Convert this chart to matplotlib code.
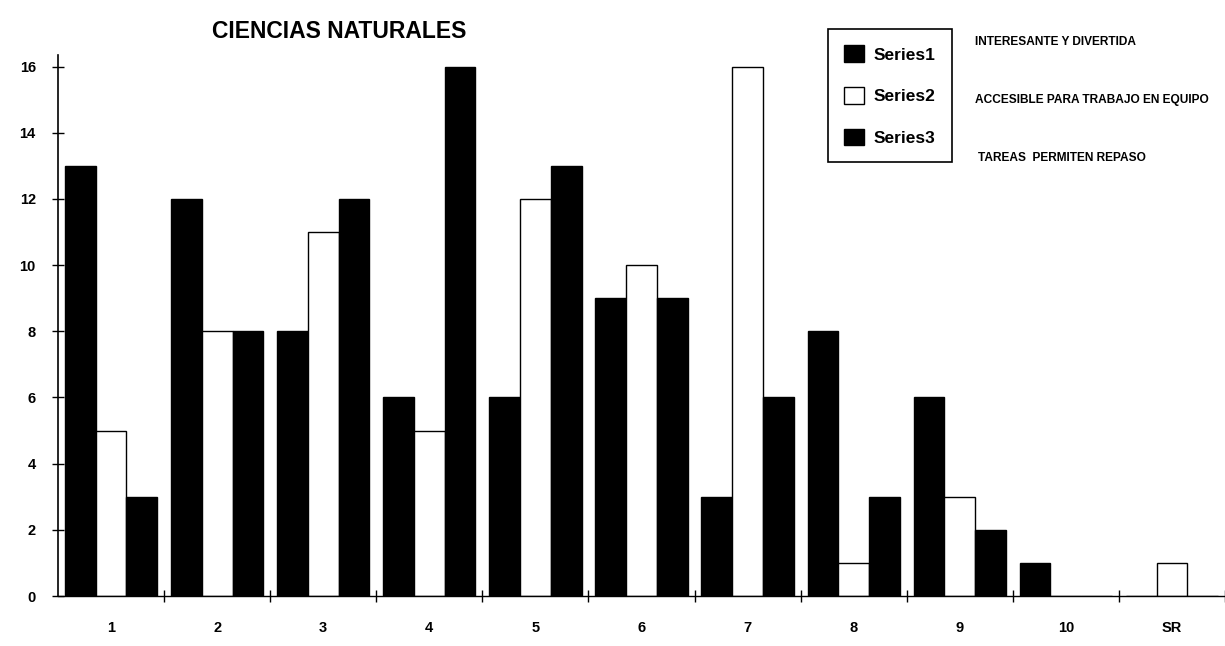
import matplotlib
matplotlib.use("Agg")
import matplotlib.pyplot as plt
import numpy as np
from matplotlib.patches import Patch

categories = ["1", "2", "3", "4", "5", "6", "7", "8", "9", "10", "SR"]
series1 = [13, 12, 8, 6, 6, 9, 3, 8, 6, 1, 0]
series2 = [5, 8, 11, 5, 12, 10, 16, 1, 3, 0, 1]
series3 = [3, 8, 12, 16, 13, 9, 6, 3, 2, 0, 0]
series_names = ["Series1", "Series2", "Series3"]
yticks = [0, 2, 4, 6, 8, 10, 12, 14, 16]
side_notes = ["INTERESANTE Y DIVERTIDA", "ACCESIBLE PARA TRABAJO EN EQUIPO", "TAREAS  PERMITEN REPASO"]
title = "CIENCIAS NATURALES"

plt.rcParams['font.family'] = ['Liberation Sans', 'DejaVu Sans']

fig = plt.figure(figsize=(12.25, 6.46), dpi=100)
ax = fig.add_axes([58/1225, 1-596/646, 1-58/1225, (596-55)/646])

x = np.arange(len(categories))
w = 0.29
ax.bar(x - w, series1, width=w, color='black', edgecolor='black', linewidth=1)
ax.bar(x, series2, width=w, color='white', edgecolor='black', linewidth=1)
ax.bar(x + w, series3, width=w, color='black', edgecolor='black', linewidth=1)

ax.set_xlim(-0.5, len(categories) - 0.5)
ax.set_ylim(0, 16.35)
ax.set_yticks(yticks)
ax.set_yticklabels([str(v) for v in yticks], fontsize=10.5, fontweight='bold')
ax.set_xticks(x)
ax.set_xticklabels(categories, fontsize=10.5, fontweight='bold')
ax.set_xticks(np.arange(len(categories)) + 0.5, minor=True)
ax.tick_params(axis='x', which='major', length=0, pad=18)
ax.tick_params(axis='x', which='minor', length=8, direction='inout', width=1)
ax.tick_params(axis='y', length=8, direction='inout', width=1, pad=12)
for s in ['top', 'right']:
    ax.spines[s].set_visible(False)
ax.spines['left'].set_linewidth(1.2)
ax.spines['bottom'].set_linewidth(1.0)

fig.text(339/1225, 1-32/646, title, fontsize=16.5, fontweight='bold', ha='center', va='center')

handles = [Patch(facecolor='black', edgecolor='black'),
           Patch(facecolor='white', edgecolor='black'),
           Patch(facecolor='black', edgecolor='black')]
leg = fig.legend(handles, series_names, loc='upper left', bbox_to_anchor=(828/1225, 1-29/646),
                 prop={'size': 12.5, 'weight': 'bold'}, frameon=True, fancybox=False,
                 edgecolor='black', framealpha=1, handlelength=1.1, handleheight=1.1,
                 labelspacing=1.4, handletextpad=0.6, borderpad=0.95, borderaxespad=0)
leg.get_frame().set_linewidth(1.2)

note_y = [42, 100, 158]
note_x = [975, 975, 978]
for t, xx, yy in zip(side_notes, note_x, note_y):
    fig.text(xx/1225, 1-yy/646, t, fontsize=8.6, fontweight='bold', ha='left', va='center')

fig.savefig("out.png", dpi=100)
